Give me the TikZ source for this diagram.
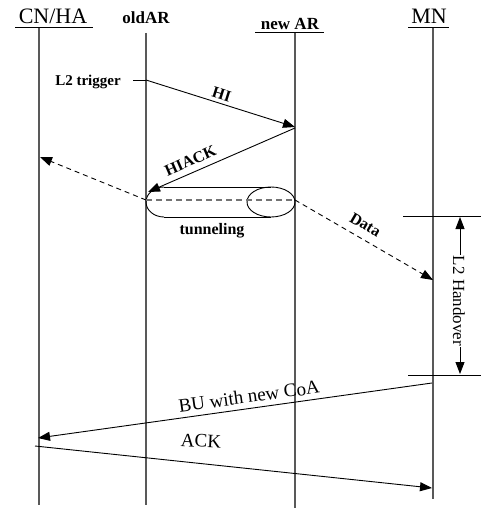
\documentclass[tikz,border=0pt]{standalone}
\usepackage{fontspec}
\setmainfont{Liberation Serif}
\usetikzlibrary{arrows.meta}
\begin{document}
\begin{tikzpicture}[x=1pt,y=-1pt,
  lifeline/.style={draw=black!65, line width=1.4pt},
  tip/.style={-{Triangle[length=12pt,width=9pt]}},
  msg/.style={draw=black, line width=0.9pt, tip},
  datamsg/.style={msg, dash pattern=on 5pt off 4pt},
  head/.style={font=\fontsize{22}{22}\selectfont, inner sep=0pt},
  bhead/.style={font=\bfseries\fontsize{17}{17}\selectfont, inner sep=0pt},
  blabel/.style={font=\bfseries\fontsize{16}{16}\selectfont, inner sep=1pt},
  rlabel/.style={font=\fontsize{19}{19}\selectfont, inner sep=1pt},
  uline/.style={draw=black, line width=0.9pt},
]
\useasboundingbox (0,0) rectangle (481,510);

% headings
\node[head]  (cn)  at (53,16)  {CN/HA};
\node[bhead] (old) at (146,18) {oldAR};
\node[bhead] (new) at (290,24) {new AR};
\node[head]  (mn)  at (429,16) {MN};
\draw[uline] (15,27) -- (93,27);
\draw[uline] (255,32) -- (324,32);
\draw[uline] (408,27) -- (449,27);

% lifelines
\coordinate (cnT)  at (39,28);  \coordinate (cnB)  at (39,505);
\coordinate (oldT) at (146,33); \coordinate (oldB) at (146,505);
\coordinate (newT) at (295,33); \coordinate (newB) at (295,508);
\coordinate (mnT)  at (433,28); \coordinate (mnB)  at (433,499);
\draw[lifeline] (cnT) -- (cnB);
\draw[lifeline] (oldT) -- (oldB);
\draw[lifeline] (newT) -- (newB);
\draw[lifeline] (mnT) -- (mnB);

% L2 trigger and HI
\node[blabel, font=\bfseries\fontsize{15}{15}\selectfont] (trig) at (88,82) {L2 trigger};
\coordinate (trigE) at (133,80);
\coordinate (hiS) at (146,80);
\coordinate (hiE) at (295,127);
\draw[line width=0.9pt] (trigE) -- (hiS);
\draw[msg] (hiS) -- (hiE) node[blabel, sloped, pos=0.49, above=2pt] {HI};

% HIACK
\coordinate (ackS) at (295,128);
\coordinate (ackE) at (148,192);
\draw[msg] (ackS) -- (ackE) node[blabel, sloped, pos=0.68, above=5pt] {HIACK};

% tunnel between oldAR and new AR
\draw[line width=0.9pt] (164,187) -- (271,187) (164,217) -- (271,217);
\draw[line width=0.9pt] (164,187) arc[start angle=270, end angle=90, x radius=18, y radius=15];
\draw[line width=0.9pt] (271,202) ellipse[x radius=24, y radius=15];
\coordinate (tunL) at (146,200);
\coordinate (tunR) at (295,200);
\draw[black!55, line width=1.3pt, dash pattern=on 6pt off 4pt] (tunL) -- (tunR);
\node[blabel] (tun) at (212,231) {tunneling};

% data forwarding
\coordinate (dataCN) at (40,157);
\coordinate (dataMN) at (433,280);
\draw[datamsg] (tunL) -- (dataCN);
\draw[datamsg] (tunR) -- (dataMN) node[blabel, sloped, pos=0.46, above=7pt] {Data};

% L2 handover interval
\coordinate (hoT) at (460,217);
\coordinate (hoB) at (460,374);
\draw[line width=0.9pt] (403,216) -- (481,216);
\draw[line width=0.9pt] (408,375) -- (481,375);
\draw[line width=0.9pt, {Triangle[length=12pt,width=9pt]}-{Triangle[length=12pt,width=9pt]}] (hoT) -- (hoB);
\node[font=\fontsize{17}{17}\selectfont, fill=white, inner sep=1pt, rotate=-90] (ho) at (459,301) {L2 Handover};

% binding update and acknowledgement
\coordinate (buS) at (432,383);
\coordinate (buE) at (38,438);
\draw[msg] (buS) -- (buE) node[rlabel, sloped, pos=0.46, above=4pt] {BU with new CoA};
\coordinate (akS) at (35,446);
\coordinate (akE) at (432,488);
\draw[msg] (akS) -- (akE);
\node[rlabel, rotate=-3] (ack) at (201,441) {ACK};
\end{tikzpicture}
\end{document}
